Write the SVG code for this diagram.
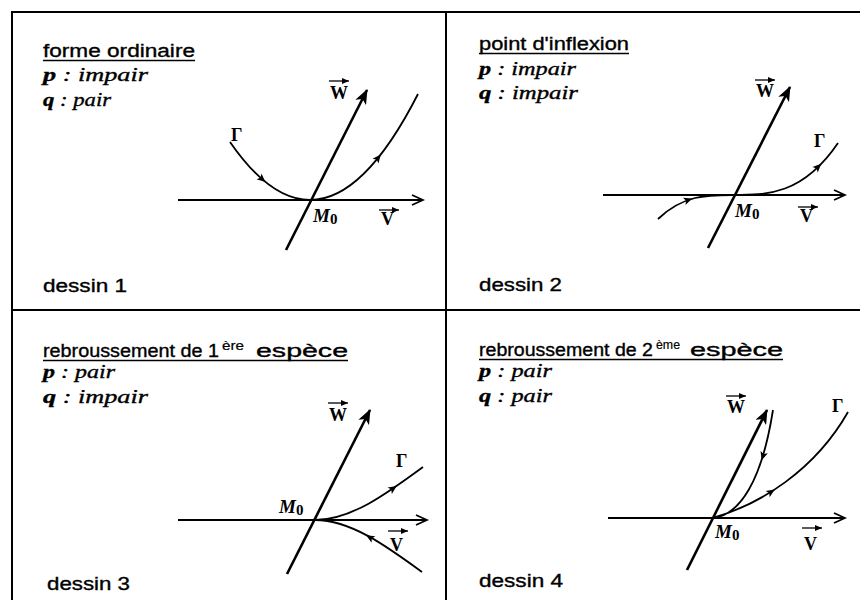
<svg xmlns="http://www.w3.org/2000/svg" width="863" height="600" viewBox="0 0 863 600">
<style>
.frame{stroke:#000;stroke-width:2;fill:none}
.ul{stroke:#000;stroke-width:1.5}
.axis{stroke:#000;stroke-width:2;fill:none}
.wline{stroke:#000;stroke-width:2.6;fill:none}
.curve{stroke:#000;stroke-width:1.8;fill:none}
.bar{stroke:#000;stroke-width:1.3;fill:none}
.sans{font-family:"Liberation Sans",Arial,sans-serif;font-size:18px;fill:#000;stroke:#000;stroke-width:0.35}
.sup{font-family:"Liberation Sans",Arial,sans-serif;font-size:13px;fill:#000;stroke:#000;stroke-width:0.2}
.it{font-family:"Liberation Serif","Times New Roman",serif;font-style:italic;font-size:19px;fill:#000;stroke:#000;stroke-width:0.35}
.vec{font-family:"Liberation Serif","Times New Roman",serif;font-weight:bold;font-size:18px;fill:#000}
.m{font-family:"Liberation Serif","Times New Roman",serif;font-weight:bold;font-style:italic;font-size:19px;fill:#000}
.sub{font-family:"Liberation Serif","Times New Roman",serif;font-weight:bold;font-size:15px;fill:#000}
</style>
<defs>
<marker id="openHead" markerWidth="14" markerHeight="12" refX="12" refY="6" orient="auto" markerUnits="userSpaceOnUse"><path d="M1,1 L12,6 L1,11" fill="none" stroke="#000" stroke-width="1.8"/></marker>
<marker id="fillHead" markerWidth="16" markerHeight="12" refX="14" refY="6" orient="auto" markerUnits="userSpaceOnUse"><path d="M0,0 L15,6 L0,12 L4,6 Z" fill="#000"/></marker>
<marker id="tinyHead" markerWidth="8" markerHeight="6" refX="7" refY="3" orient="auto" markerUnits="userSpaceOnUse"><path d="M0,0 L7,3 L0,6 Z" fill="#000"/></marker>
<path id="tri" d="M4.5,0 L-4,-3.8 L-2,0 L-4,3.8 Z" fill="#000"/>
</defs>
<rect width="863" height="600" fill="#fff"/>
<g id="frame">
<line class="frame" x1="12" y1="12" x2="860" y2="12"/>
<line class="frame" x1="12" y1="11" x2="12" y2="600"/>
<line class="frame" x1="446" y1="12" x2="446" y2="600"/>
<line class="frame" x1="12" y1="310" x2="860" y2="310"/>
</g>

<g id="panel1">
<text class="sans" x="43" y="57" textLength="152" lengthAdjust="spacingAndGlyphs">forme ordinaire</text>
<line class="ul" x1="43" y1="60.5" x2="195" y2="60.5"/>
<text class="it" x="43" y="81" textLength="105" lengthAdjust="spacingAndGlyphs"><tspan font-weight="bold">p</tspan> : impair</text>
<text class="it" x="43" y="106" textLength="68" lengthAdjust="spacingAndGlyphs"><tspan font-weight="bold">q</tspan> : pair</text>
<text class="sans" x="43" y="292" textLength="84" lengthAdjust="spacingAndGlyphs">dessin 1</text>
<g id="p1-axes">
<line class="axis" x1="178" y1="200" x2="423" y2="200" marker-end="url(#openHead)"/>
<line class="wline" x1="286" y1="250" x2="367" y2="90" marker-end="url(#fillHead)"/>
</g>
<g id="p1-curve">
<path class="curve" d="M230,142 Q270,200 310,200 Q364,200 418,94"/>
<use href="#tri" transform="translate(262,179) rotate(41)"/>
<use href="#tri" transform="translate(378,158) rotate(-51)"/>
</g>
<g id="p1-labels">
<text class="vec" x="330" y="99">W</text>
<line class="bar" x1="329" y1="81" x2="349" y2="81" marker-end="url(#tinyHead)"/>
<text class="vec" x="381" y="225">V</text>
<line class="bar" x1="379" y1="210" x2="399" y2="210" marker-end="url(#tinyHead)"/>
<text class="m" x="313" y="222">M<tspan class="sub" font-style="normal" dy="2">0</tspan></text>
<text class="vec" x="231" y="141">Γ</text>
</g>
</g>

<g id="panel2">
<text class="sans" x="479" y="50" textLength="150" lengthAdjust="spacingAndGlyphs">point d'inflexion</text>
<line class="ul" x1="479" y1="53.5" x2="629" y2="53.5"/>
<text class="it" x="479" y="75" textLength="97" lengthAdjust="spacingAndGlyphs"><tspan font-weight="bold">p</tspan> : impair</text>
<text class="it" x="479" y="99" textLength="99" lengthAdjust="spacingAndGlyphs"><tspan font-weight="bold">q</tspan> : impair</text>
<text class="sans" x="479" y="291" textLength="83" lengthAdjust="spacingAndGlyphs">dessin 2</text>
<g id="p2-axes">
<line class="axis" x1="603" y1="195" x2="845" y2="195" marker-end="url(#openHead)"/>
<line class="wline" x1="708" y1="248" x2="790" y2="87" marker-end="url(#fillHead)"/>
</g>
<g id="p2-curve">
<path class="curve" d="M658,219 C682.7,195 707.3,195 732,195 C767.3,195 802.7,195 838,143"/>
<use href="#tri" transform="translate(688,200) rotate(-19)"/>
<use href="#tri" transform="translate(818,167) rotate(-44)"/>
</g>
<g id="p2-labels">
<text class="vec" x="756" y="97">W</text>
<line class="bar" x1="755" y1="80" x2="775" y2="80" marker-end="url(#tinyHead)"/>
<text class="vec" x="800" y="222">V</text>
<line class="bar" x1="798" y1="207" x2="818" y2="207" marker-end="url(#tinyHead)"/>
<text class="m" x="735" y="217">M<tspan class="sub" font-style="normal" dy="2">0</tspan></text>
<text class="vec" x="814" y="147">Γ</text>
</g>
</g>

<g id="panel3">
<text class="sans" x="43" y="357" font-size="19" textLength="176" lengthAdjust="spacingAndGlyphs">rebroussement de 1</text>
<text class="sup" x="222" y="350" textLength="22" lengthAdjust="spacingAndGlyphs">ère</text>
<text class="sans" x="256" y="357" font-size="20" textLength="92" lengthAdjust="spacingAndGlyphs">espèce</text>
<line class="ul" x1="43" y1="360.5" x2="348" y2="360.5"/>
<text class="it" x="43" y="378" textLength="72" lengthAdjust="spacingAndGlyphs"><tspan font-weight="bold">p</tspan> : pair</text>
<text class="it" x="43" y="403" textLength="105" lengthAdjust="spacingAndGlyphs"><tspan font-weight="bold">q</tspan> : impair</text>
<text class="sans" x="47" y="590" textLength="83" lengthAdjust="spacingAndGlyphs">dessin 3</text>
<g id="p3-axes">
<line class="axis" x1="178" y1="520" x2="427" y2="520" marker-end="url(#openHead)"/>
<line class="wline" x1="287" y1="574" x2="370" y2="410" marker-end="url(#fillHead)"/>
</g>
<g id="p3-curve">
<path class="curve" d="M423,467 C387,493.5 351,520 315,520 C351,520 387,546.5 422,572"/>
<use href="#tri" transform="translate(393,488.5) rotate(-34)"/>
<use href="#tri" transform="translate(370,537.5) rotate(209.6)"/>
</g>
<g id="p3-labels">
<text class="vec" x="329" y="421">W</text>
<line class="bar" x1="328" y1="403" x2="348" y2="403" marker-end="url(#tinyHead)"/>
<text class="vec" x="390" y="551">V</text>
<line class="bar" x1="388" y1="531" x2="408" y2="531" marker-end="url(#tinyHead)"/>
<text class="m" x="279" y="513">M<tspan class="sub" font-style="normal" dy="2">0</tspan></text>
<text class="vec" x="396" y="467">Γ</text>
</g>
</g>

<g id="panel4">
<text class="sans" x="479" y="356" font-size="19" textLength="174" lengthAdjust="spacingAndGlyphs">rebroussement de 2</text>
<text class="sup" x="656" y="349" textLength="24" lengthAdjust="spacingAndGlyphs">ème</text>
<text class="sans" x="690" y="356" font-size="20" textLength="93" lengthAdjust="spacingAndGlyphs">espèce</text>
<line class="ul" x1="479" y1="359.5" x2="783" y2="359.5"/>
<text class="it" x="479" y="377" textLength="73" lengthAdjust="spacingAndGlyphs"><tspan font-weight="bold">p</tspan> : pair</text>
<text class="it" x="479" y="402" textLength="73" lengthAdjust="spacingAndGlyphs"><tspan font-weight="bold">q</tspan> : pair</text>
<text class="sans" x="479" y="587" textLength="84" lengthAdjust="spacingAndGlyphs">dessin 4</text>
<g id="p4-axes">
<line class="axis" x1="608" y1="518" x2="845" y2="518" marker-end="url(#openHead)"/>
<line class="wline" x1="687" y1="570" x2="767" y2="410" marker-end="url(#fillHead)"/>
</g>
<g id="p4-curve">
<path class="curve" d="M773,410 C762,480 740,516 712,518 C760,505 815,470 848,412"/>
<use href="#tri" transform="translate(763,456) rotate(107)"/>
<use href="#tri" transform="translate(771,492) rotate(-32)"/>
</g>
<g id="p4-labels">
<text class="vec" x="727" y="413">W</text>
<line class="bar" x1="726" y1="396" x2="746" y2="396" marker-end="url(#tinyHead)"/>
<text class="vec" x="804" y="550">V</text>
<line class="bar" x1="802" y1="528" x2="822" y2="528" marker-end="url(#tinyHead)"/>
<text class="m" x="715" y="538">M<tspan class="sub" font-style="normal" dy="2">0</tspan></text>
<text class="vec" x="832" y="412">Γ</text>
</g>
</g>
</svg>
